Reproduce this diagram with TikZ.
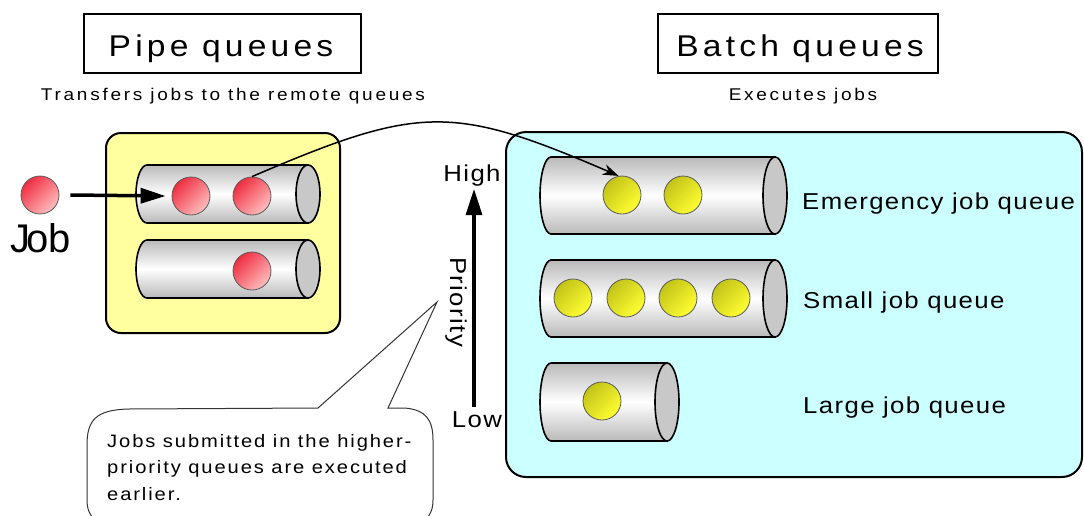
\documentclass[tikz,border=0pt]{standalone}
\usepackage{fontspec}
\setmainfont{Liberation Sans}
\newfontfamily\spacedA[FakeStretch=1.12,LetterSpace=14]{Liberation Sans}
\newfontfamily\spacedS[FakeStretch=1.12,LetterSpace=16]{Liberation Sans}
\newfontfamily\spacedB[FakeStretch=1.12,LetterSpace=6]{Liberation Sans}
\newfontfamily\spacedC[FakeStretch=1.12,LetterSpace=10.5]{Liberation Sans}
\usetikzlibrary{arrows.meta,calc}
\definecolor{yelbox}{RGB}{255,255,160}
\definecolor{cyanbox}{RGB}{204,255,255}
\definecolor{cylgray}{RGB}{185,185,185}
\definecolor{endgray}{RGB}{200,200,200}
\definecolor{redA}{RGB}{240,45,65}
\definecolor{redB}{RGB}{255,190,190}
\definecolor{yelA}{RGB}{195,195,25}
\definecolor{yelB}{RGB}{255,255,50}
\tikzset{
  titlebox/.style={draw, line width=2.5pt, minimum height=59pt, inner sep=0pt},
  titletext/.style={inner sep=0pt, font=\spacedA\fontsize{30}{36}\selectfont},
  subtext/.style={inner sep=0pt, font=\spacedS\fontsize{17}{20}\selectfont},
  smalltext/.style={inner sep=0pt, font=\spacedC\fontsize{18}{26.5}\selectfont},
  labeltext/.style={inner sep=0pt, font=\spacedB\fontsize{23}{27}\selectfont},
  bigtext/.style={inner sep=0pt, font=\fontsize{40}{46}\selectfont},
  redball/.style={circle, draw=black!65, line width=0.8pt, minimum size=38pt, inner sep=0pt, top color=redA, bottom color=redB, shading angle=45},
  yelball/.style={circle, draw=black!65, line width=0.8pt, minimum size=38pt, inner sep=0pt, top color=yelA, bottom color=yelB, shading angle=45},
  cylbody/.style={draw, line width=1.6pt, top color=cylgray, bottom color=cylgray, middle color=white},
  cylend/.style={draw, line width=1.6pt, fill=endgray},
  roundbox/.style={draw, line width=2pt},
  callout/.style={draw=black!80, line width=1pt, fill=white},
  thickarrow/.style={line width=3.5pt, -{Triangle[length=25pt,width=15pt]}},
  curvearrow/.style={line width=1.5pt, -{Stealth[length=16pt,width=11pt]}}
}
\newcommand{\qcyl}[4]{%
  \pgfmathsetmacro\qmid{(#2+#4)/2}%
  \pgfmathsetmacro\qry{(#4-#2)/2}%
  \pgfmathsetmacro\qxc{#3-12}%
  \pgfmathsetmacro\qxa{#1+11}%
  \pgfmathsetmacro\qk{0.552*\qry}%
  \path[cylbody] (\qxc,#2) -- (\qxa,#2) .. controls ({\qxa-6},#2) and (#1,{\qmid-\qk}) .. (#1,\qmid) .. controls (#1,{\qmid+\qk}) and ({\qxa-6},#4) .. (\qxa,#4) -- (\qxc,#4) -- cycle;
  \path[cylend] (\qxc,\qmid) ellipse [x radius=12, y radius=\qry];
}
\begin{document}
\begin{tikzpicture}[x=1pt,y=-1pt]
\useasboundingbox (0,0) rectangle (1084,515);
% titles
\node[titlebox, minimum width=277pt] (pq) at (222.5,43.5) {};
\node[titlebox, minimum width=280pt] (bq) at (798,43.5) {};
\node[titletext, anchor=base] (pqt) at (221,56) {Pipe queues};
\node[titletext, anchor=base] (bqt) at (800,56) {Batch queues};
\node[subtext, anchor=base] (pqsub) at (233,100) {Transfers jobs to the remote queues};
\node[subtext, anchor=base] (bqsub) at (803,100) {Executes jobs};
% boxes
\draw[roundbox, fill=yelbox, rounded corners=15pt] (106,133) rectangle (340,333);
\draw[roundbox, fill=cyanbox, rounded corners=20pt] (506,132) rectangle (1082,477);
% pipe cylinders
\qcyl{136}{165}{320}{223}
\qcyl{136}{240}{320}{298}
% batch cylinders
\qcyl{540}{157}{787}{234}
\qcyl{540}{260}{787}{337}
\qcyl{540}{363}{679}{441}
% balls
\node[redball] (j0) at (40,195) {};
\node[redball] (p1) at (191,196) {};
\node[redball] (p2) at (252,196) {};
\node[redball] (p3) at (252,271) {};
\node[yelball] (e1) at (622,195) {};
\node[yelball] (e2) at (683,195) {};
\node[yelball] (s1) at (573,298) {};
\node[yelball] (s2) at (626,298) {};
\node[yelball] (s3) at (678,298) {};
\node[yelball] (s4) at (731,298) {};
\node[yelball] (l1) at (602,401) {};
% job label
\node[bigtext, anchor=base] (joblbl) at (41,252) {J\kern-4pt ob};
% arrows
\draw[thickarrow] ([xshift=11pt]j0.east) -- ([xshift=-6pt]p1.west);
\draw[curvearrow] (p2.north) .. controls (419,105) and (452,104) .. (e1.100);
% priority
\coordinate (plow) at (474,407);
\coordinate (phigh) at (474,189);
\draw[line width=3.2pt, -{Triangle[length=26pt,width=16pt]}] (plow) -- (phigh);
\node[labeltext, anchor=base] (high) at (472,181) {High};
\node[labeltext, anchor=base] (low) at (477,427) {Low};
\node[labeltext, rotate=-90] (prio) at (456,302) {Priority};
% labels
\node[labeltext, anchor=base west] (lem) at (802,209) {Emergency job queue};
\node[labeltext, anchor=base west] (lsm) at (803,308) {Small job queue};
\node[labeltext, anchor=base west] (llg) at (803,413) {Large job queue};
% callout
\coordinate (ctip) at (437,302);
\draw[callout] (318,408) -- (ctip) -- (388,408) -- (405,408) .. controls (426,410) and (433,420) .. (433,440) -- (433,500) .. controls (433,510) and (430,514) .. (426,520) -- (94,520) .. controls (90,514) and (87,510) .. (87,500) -- (87,445) .. controls (87,420) and (96,410) .. (128,409) -- cycle;
\node[smalltext, anchor=north west, align=left] (ctext) at (107,434) {Jobs submitted in the higher-\\priority queues are executed\\earlier.};
\end{tikzpicture}
\end{document}
